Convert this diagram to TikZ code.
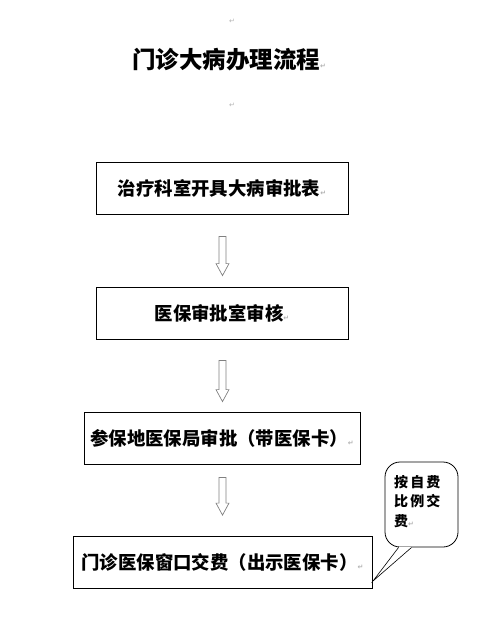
\documentclass[tikz,border=0pt]{standalone}
\usepackage{fontspec}
\newfontfamily\cjk{Noto Sans CJK SC}
\newfontfamily\marksfont{DejaVu Sans}
\usetikzlibrary{calc}
\newcommand{\pmark}{{\marksfont\fontsize{7}{7}\selectfont\color{gray!60}↵}}
% hollow down arrow from #1 (top of shaft) to #2 (tip)
\newcommand{\hollowdown}[2]{%
  \draw[arrowline] ($(#1)+(-3.5,0)$) -- ($(#2)+(-3.5,-12)$) -- ($(#2)+(-6.5,-12)$) -- (#2)
    -- ($(#2)+(6.5,-12)$) -- ($(#2)+(3.5,-12)$) -- ($(#1)+(3.5,0)$) -- cycle;}

\begin{document}
\begin{tikzpicture}[x=1pt, y=-1pt,
  flowbox/.style={draw, line width=0.8pt, minimum height=52pt, inner sep=0pt,
    font=\cjk\bfseries\fontsize{18.4}{20}\selectfont},
  arrowline/.style={draw=gray, line width=0.7pt}]
\useasboundingbox (0,0) rectangle (480,626);

% Title
\node (p0) at (232,21) {\pmark};
\node[anchor=west, inner sep=0pt, font=\cjk\bfseries\fontsize{23.5}{24}\selectfont] (title) at (132,60) {门诊大病办理流程\pmark};
\node (p1) at (232,105) {\pmark};

% Steps
\node[flowbox, minimum width=252pt] (b1) at (222,188) {治疗科室开具大病审批表\pmark};
\node[flowbox, minimum width=252pt] (b2) at (222,313) {医保审批室审核\pmark};
\node[flowbox, minimum width=276pt] (b3) at (222,438) {参保地医保局审批（带医保卡）\pmark};
\node[flowbox, minimum width=299pt] (b4) at (222.5,562.5) {门诊医保窗口交费（出示医保卡）\pmark};

% Arrows between steps
\coordinate (a1top) at ($(b1.south)+(0.5,22)$);
\coordinate (a1tip) at ($(b2.north)+(0.5,-11)$);
\coordinate (a2top) at ($(b2.south)+(0.5,21)$);
\coordinate (a2tip) at ($(b3.north)+(0.5,-10)$);
\coordinate (a3top) at ($(b3.south)+(0.5,13)$);
\coordinate (a3tip) at ($(b4.north)+(0,-21)$);
\hollowdown{a1top}{a1tip}
\hollowdown{a2top}{a2tip}
\hollowdown{a3top}{a3tip}

% Callout
\node[draw, line width=0.8pt, rounded corners=15pt, minimum width=73pt, minimum height=85pt] (note) at (421.5,504.5) {};
\coordinate (tip) at (373,581);
\draw[white, line width=1.6pt] ($(note.south west)+(14,0)$) -- ($(note.south west)+(27,0)$);
\draw[line width=0.6pt] ($(note.south west)+(14,0)$) -- (tip) -- ($(note.south west)+(27,0)$);
\node[anchor=north west, inner sep=0pt, align=left,
  font=\cjk\bfseries\fontsize{14}{19.5}\selectfont\addfontfeature{LetterSpace=15}] (notetext) at (394,475) {按自费\\比例交\\费\pmark};
\end{tikzpicture}
\end{document}
